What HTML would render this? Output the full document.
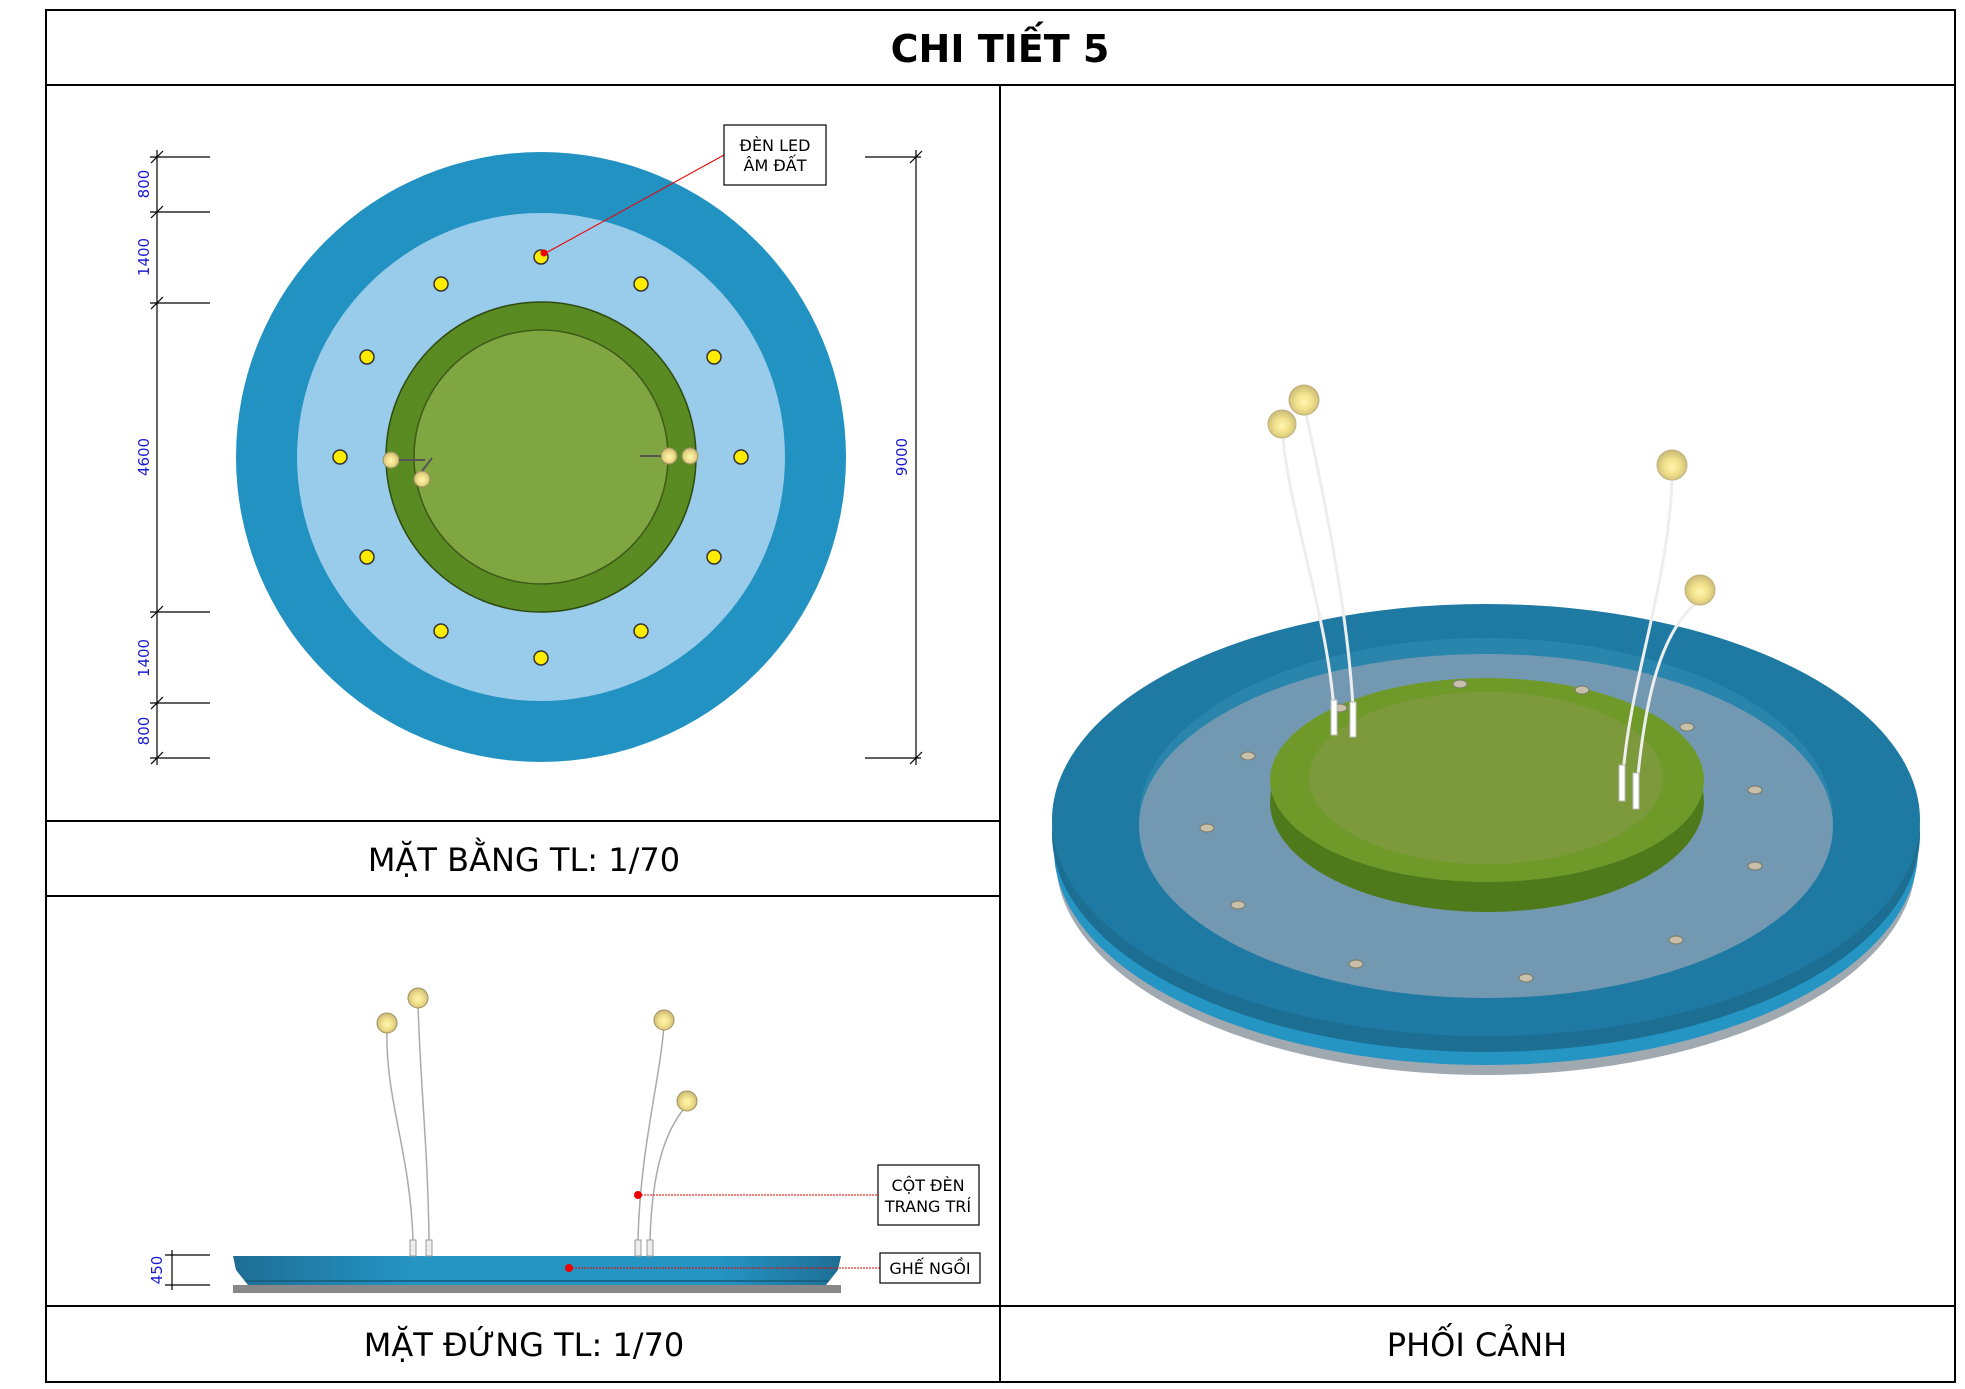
<!DOCTYPE html>
<html><head><meta charset="utf-8"><style>
html,body{margin:0;padding:0;background:#fff;}
svg{display:block;}
text{font-family:"DejaVu Sans","Liberation Sans",sans-serif;}
</style></head><body>
<svg width="1965" height="1389" viewBox="0 0 1965 1389" xmlns="http://www.w3.org/2000/svg">
<defs>
<radialGradient id="bulb" cx="50%" cy="55%" r="55%"><stop offset="0" stop-color="#fff7b0"/><stop offset="0.5" stop-color="#f0e08a"/><stop offset="1" stop-color="#c8b878"/></radialGradient>
<linearGradient id="bench" x1="0" x2="1"><stop offset="0" stop-color="#1e6e95"/><stop offset="0.3" stop-color="#2595c4"/><stop offset="0.8" stop-color="#2595c4"/><stop offset="1" stop-color="#1e6e95"/></linearGradient>
</defs>
<rect x="46" y="10" width="1909" height="1372" fill="none" stroke="#000" stroke-width="2"/>
<line x1="46" y1="85" x2="1955" y2="85" stroke="#000" stroke-width="2"/>
<line x1="1000" y1="85" x2="1000" y2="1382" stroke="#000" stroke-width="2"/>
<line x1="46" y1="821" x2="1000" y2="821" stroke="#000" stroke-width="2"/>
<line x1="46" y1="896" x2="1000" y2="896" stroke="#000" stroke-width="2"/>
<line x1="46" y1="1306" x2="1955" y2="1306" stroke="#000" stroke-width="2"/>
<text x="1000" y="62" text-anchor="middle" font-size="38" font-weight="bold">CHI TIẾT  5</text>
<text x="524" y="871" text-anchor="middle" font-size="32">MẶT BẰNG TL: 1/70</text>
<text x="524" y="1356" text-anchor="middle" font-size="32">MẶT ĐỨNG TL: 1/70</text>
<text x="1477" y="1356" text-anchor="middle" font-size="32">PHỐI CẢNH</text>

<circle cx="541" cy="457" r="305" fill="#2292c2"/>
<circle cx="541" cy="457" r="244" fill="#99cbea"/>
<circle cx="541" cy="457" r="155" fill="#5a8a22" stroke="#2f4a10" stroke-width="1.5"/>
<circle cx="541" cy="457" r="127" fill="#7fa640" stroke="#3f5a18" stroke-width="1.5"/>
<g fill="#ffec00" stroke="#333" stroke-width="1.5">
<circle cx="541" cy="257" r="7"/><circle cx="641" cy="284" r="7"/><circle cx="714" cy="357" r="7"/>
<circle cx="741" cy="457" r="7"/><circle cx="714" cy="557" r="7"/><circle cx="641" cy="631" r="7"/>
<circle cx="541" cy="658" r="7"/><circle cx="441" cy="631" r="7"/><circle cx="367" cy="557" r="7"/>
<circle cx="340" cy="457" r="7"/><circle cx="367" cy="357" r="7"/><circle cx="441" cy="284" r="7"/>
</g>
<g fill="url(#bulb)" stroke="#a09060" stroke-width="1">
<circle cx="391" cy="460" r="8"/><circle cx="422" cy="479" r="8"/><circle cx="669" cy="456" r="8"/><circle cx="690" cy="456" r="8"/>
</g>
<g stroke="#555" stroke-width="2"><line x1="399" y1="460" x2="425" y2="460"/><line x1="422" y1="471" x2="432" y2="458"/><line x1="661" y1="456" x2="640" y2="456"/></g>
<line x1="544" y1="254" x2="724" y2="155" stroke="#e00" stroke-width="1"/>
<circle cx="544" cy="253" r="3.5" fill="#e00"/>
<rect x="724" y="125" width="102" height="60" fill="#fff" stroke="#000" stroke-width="1.2"/>
<text x="775" y="151" text-anchor="middle" font-size="16">ĐÈN LED</text>
<text x="775" y="171" text-anchor="middle" font-size="16">ÂM ĐẤT</text>
<g stroke="#000" stroke-width="1.2">
<line x1="157" y1="150" x2="157" y2="765"/>
<line x1="150" y1="157" x2="210" y2="157"/><line x1="150" y1="212" x2="210" y2="212"/><line x1="150" y1="303" x2="210" y2="303"/>
<line x1="150" y1="612" x2="210" y2="612"/><line x1="150" y1="703" x2="210" y2="703"/><line x1="150" y1="758" x2="210" y2="758"/>
<line x1="865" y1="157" x2="921" y2="157"/><line x1="865" y1="758" x2="921" y2="758"/><line x1="916" y1="150" x2="916" y2="765"/>
<line x1="151" y1="163" x2="163" y2="151"/><line x1="151" y1="218" x2="163" y2="206"/><line x1="151" y1="309" x2="163" y2="297"/>
<line x1="151" y1="618" x2="163" y2="606"/><line x1="151" y1="709" x2="163" y2="697"/><line x1="151" y1="764" x2="163" y2="752"/>
<line x1="910" y1="163" x2="922" y2="151"/><line x1="910" y1="764" x2="922" y2="752"/>
</g>
<g fill="#1a1ad0" font-size="15">
<text transform="translate(149,184) rotate(-90)" text-anchor="middle">800</text>
<text transform="translate(149,257) rotate(-90)" text-anchor="middle">1400</text>
<text transform="translate(149,457) rotate(-90)" text-anchor="middle">4600</text>
<text transform="translate(149,658) rotate(-90)" text-anchor="middle">1400</text>
<text transform="translate(149,731) rotate(-90)" text-anchor="middle">800</text>
<text transform="translate(907,457) rotate(-90)" text-anchor="middle">9000</text>
</g>

<rect x="233" y="1285" width="608" height="8" fill="#888"/>
<path d="M233 1256 L841 1256 L838 1270 L826 1285 L248 1285 L236 1270 Z" fill="url(#bench)"/>
<line x1="245" y1="1281" x2="829" y2="1281" stroke="#155a7a" stroke-width="1.5"/>
<g fill="none" stroke="#aaa" stroke-width="1.5">
<path d="M413 1240 C410 1150 385 1100 387 1028"/>
<path d="M429 1240 C428 1150 420 1080 418 1003"/>
<path d="M638 1240 C640 1150 660 1080 664 1025"/>
<path d="M650 1240 C652 1170 665 1130 687 1105"/>
</g>
<g fill="#eee" stroke="#999" stroke-width="1"><rect x="410" y="1240" width="6" height="16"/><rect x="426" y="1240" width="6" height="16"/><rect x="635" y="1240" width="6" height="16"/><rect x="647" y="1240" width="6" height="16"/></g>
<g fill="url(#bulb)" stroke="#a09060"><ellipse cx="418" cy="998" rx="10" ry="10"/><ellipse cx="387" cy="1023" rx="10" ry="10"/><ellipse cx="664" cy="1020" rx="10" ry="10"/><ellipse cx="687" cy="1101" rx="10" ry="10"/></g>
<line x1="638" y1="1195" x2="878" y2="1195" stroke="#e00" stroke-dasharray="2 1"/>
<circle cx="638" cy="1195" r="4" fill="#e00"/>
<line x1="569" y1="1268" x2="880" y2="1268" stroke="#e00" stroke-dasharray="2 1"/>
<circle cx="569" cy="1268" r="4" fill="#e00"/>
<rect x="878" y="1165" width="101" height="60" fill="#fff" stroke="#000" stroke-width="1.2"/>
<text x="928" y="1191" text-anchor="middle" font-size="16">CỘT ĐÈN</text>
<text x="928" y="1212" text-anchor="middle" font-size="16">TRANG TRÍ</text>
<rect x="880" y="1253" width="100" height="30" fill="#fff" stroke="#000" stroke-width="1.2"/>
<text x="930" y="1274" text-anchor="middle" font-size="16">GHẾ NGỒI</text>
<g stroke="#000" stroke-width="1.2"><line x1="165" y1="1255" x2="210" y2="1255"/><line x1="165" y1="1285" x2="210" y2="1285"/><line x1="172" y1="1250" x2="172" y2="1290"/></g>
<text transform="translate(162,1270) rotate(-90)" text-anchor="middle" fill="#1a1ad0" font-size="15">450</text>

<ellipse cx="1486" cy="860" rx="430" ry="215" fill="#a0a8b0"/>
<ellipse cx="1486" cy="850" rx="432" ry="215" fill="#2595c4"/>
<ellipse cx="1486" cy="834" rx="434" ry="218" fill="#1c6f93"/>
<ellipse cx="1486" cy="820" rx="434" ry="216" fill="#1e7aa2"/>
<ellipse cx="1486" cy="818" rx="347" ry="180" fill="#2a85ad"/>
<ellipse cx="1486" cy="826" rx="347" ry="172" fill="#7399b2"/>
<ellipse cx="1487" cy="802" rx="217" ry="110" fill="#4e7a1c"/>
<ellipse cx="1487" cy="780" rx="217" ry="102" fill="#6f9a2a"/>
<ellipse cx="1486" cy="778" rx="177" ry="86" fill="#7c9a3c"/>
<g fill="#c8c0a8" stroke="#776" stroke-width="1">
<ellipse cx="1460" cy="684" rx="7" ry="4"/><ellipse cx="1582" cy="690" rx="7" ry="4"/><ellipse cx="1687" cy="727" rx="7" ry="4"/>
<ellipse cx="1755" cy="790" rx="7" ry="4"/><ellipse cx="1755" cy="866" rx="7" ry="4"/><ellipse cx="1676" cy="940" rx="7" ry="4"/>
<ellipse cx="1526" cy="978" rx="7" ry="4"/><ellipse cx="1356" cy="964" rx="7" ry="4"/><ellipse cx="1238" cy="905" rx="7" ry="4"/>
<ellipse cx="1207" cy="828" rx="7" ry="4"/><ellipse cx="1248" cy="756" rx="7" ry="4"/><ellipse cx="1340" cy="708" rx="7" ry="4"/>
</g>
<g fill="none" stroke="#eee" stroke-width="3">
<path d="M1335 725 C1330 620 1290 520 1282 430"/>
<path d="M1354 727 C1350 620 1325 500 1304 405"/>
<path d="M1623 775 C1630 680 1670 580 1672 475"/>
<path d="M1637 785 C1645 700 1660 630 1700 600"/>
</g>
<g fill="#fff" stroke="#bbb" stroke-width="1"><rect x="1331" y="700" width="6" height="35"/><rect x="1350" y="702" width="6" height="35"/><rect x="1619" y="765" width="6" height="36"/><rect x="1633" y="773" width="6" height="36"/></g>
<g fill="url(#bulb)" stroke="#c0b080"><ellipse cx="1304" cy="400" rx="15" ry="15"/><ellipse cx="1282" cy="424" rx="14" ry="14"/><ellipse cx="1672" cy="465" rx="15" ry="15"/><ellipse cx="1700" cy="590" rx="15" ry="15"/></g>
</svg>
</body></html>
